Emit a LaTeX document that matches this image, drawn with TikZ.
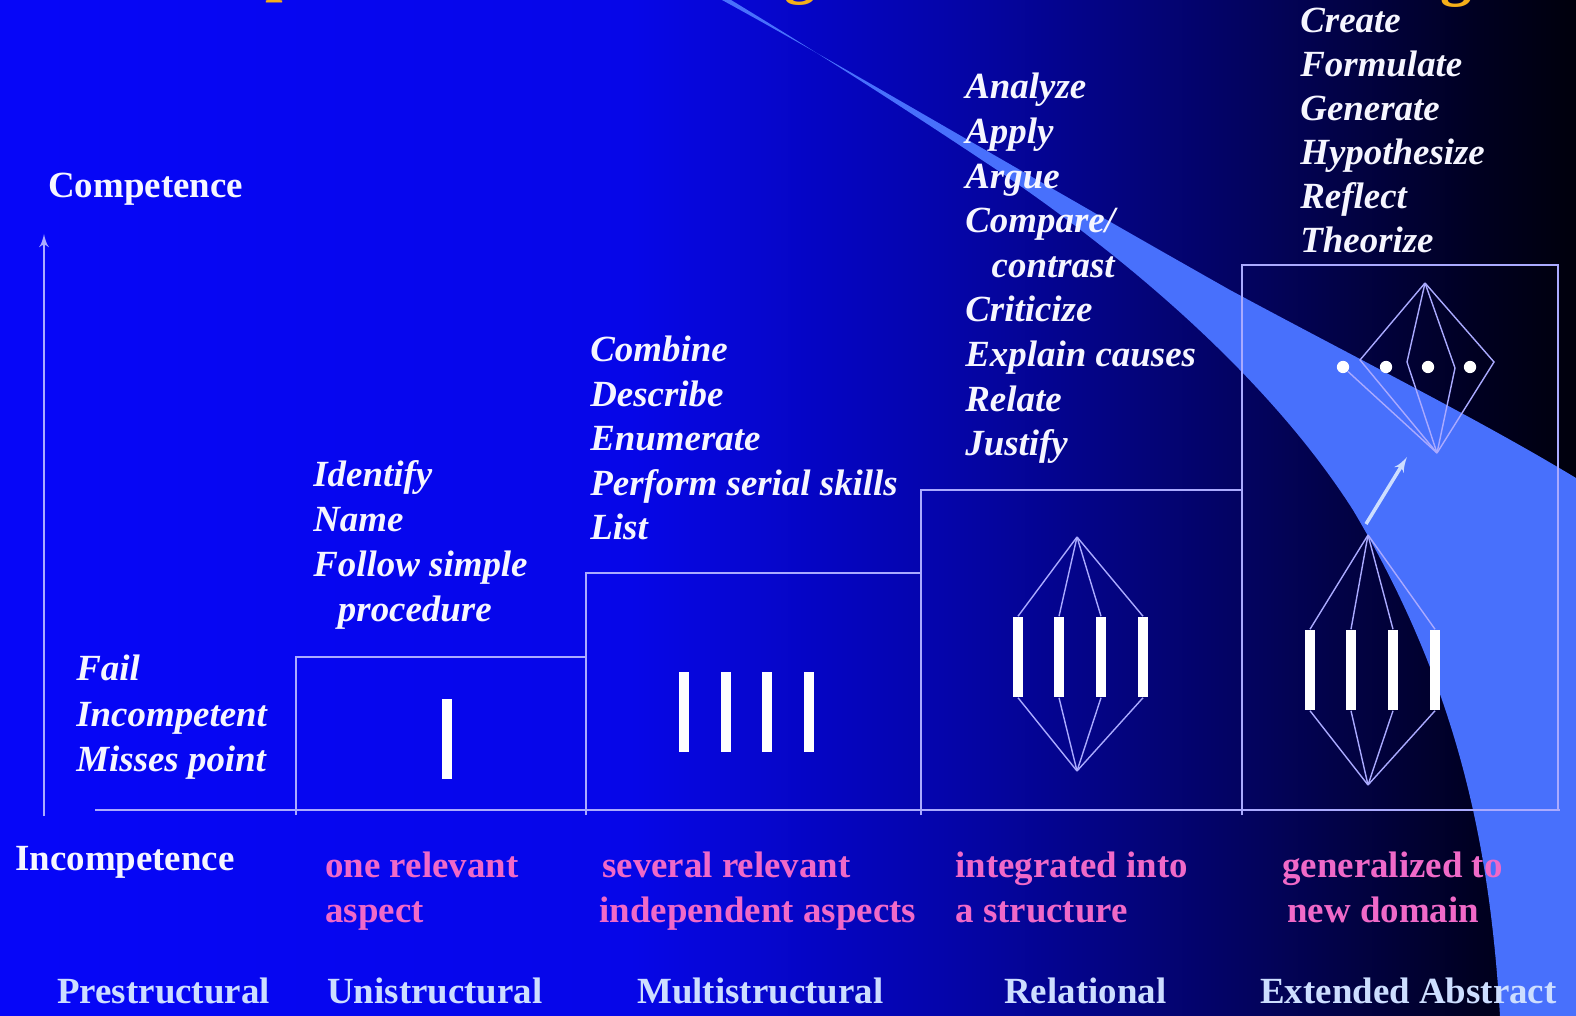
\documentclass[tikz,border=0pt]{standalone}
\usepackage{fontspec}
\setmainfont{Liberation Serif}
\usetikzlibrary{arrows}
\usetikzlibrary{positioning}

\definecolor{bgA}{RGB}{6,6,248}
\definecolor{bgB}{RGB}{6,6,232}
\definecolor{bgC}{RGB}{5,5,170}
\definecolor{bgD}{RGB}{3,3,92}
\definecolor{bgE}{RGB}{0,0,32}
\definecolor{bgF}{RGB}{0,0,12}
\definecolor{swooshblue}{RGB}{72,112,252}
\definecolor{linelav}{RGB}{170,170,255}
\definecolor{txtwhite}{RGB}{246,246,255}
\definecolor{aspectpink}{RGB}{240,105,200}
\definecolor{levelblue}{RGB}{205,222,255}
\definecolor{titleorange}{RGB}{245,175,25}
\pgfdeclarehorizontalshading{bgshade}{100bp}{color(0bp)=(bgA); color(25bp)=(bgA);
  color(45bp)=(bgB); color(55bp)=(bgC); color(65bp)=(bgD); color(72bp)=(bgE);
  color(75bp)=(bgF); color(100bp)=(bgF)}

\tikzset{verb/.style = {text=txtwhite, inner sep=0, anchor=base west,
                        font=\fontsize{21}{25}\selectfont\bfseries\itshape}}
\tikzset{axislbl/.style = {text=txtwhite, inner sep=0, anchor=base west,
                           font=\fontsize{21}{25}\selectfont\bfseries}}
\tikzset{aspect/.style = {axislbl, text=aspectpink}}
\tikzset{level/.style = {axislbl, text=levelblue}}
\tikzset{ttl/.style = {text=titleorange, inner sep=0, anchor=base west,
                       font=\fontsize{36}{40}\selectfont\bfseries}}
\tikzset{stepline/.style = {draw=linelav, line width=1.3pt}}
\tikzset{struct/.style = {draw=linelav, line width=0.8pt}}
\tikzset{bar/.style = {fill=white, inner sep=0, minimum width=5.5pt, minimum height=46pt}}
\tikzset{circ/.style = {fill=white, circle, inner sep=0, minimum size=7pt}}

\begin{document}
\begin{tikzpicture}[x=0.02cm, y=-0.02cm]
    \useasboundingbox (0, 0) rectangle (1576, 1016);
    \shade [shading=bgshade] (0, 0) rectangle (1576, 1016);

    % light swoosh of the slide template
    \fill [swooshblue] (722, 0) .. controls (850, 70) and (1000, 160) .. (1230, 290)
        .. controls (1360, 360) and (1480, 420) .. (1576, 478) -- (1576, 1016) -- (1500, 1016)
        .. controls (1490, 850) and (1460, 690) .. (1353, 510)
        .. controls (1270, 380) and (1130, 260) .. (1000, 172)
        .. controls (880, 92) and (800, 42) .. (731, 0) -- cycle;

    % what is left of the title
    \node [ttl] (ttlp) at (265, -10) {p};
    \node [ttl] (ttlg) at (784, -8) {g};
    \node [ttl] (ttlgg) at (1440, -6) {g};

    % axis and steps
    \coordinate (axbot) at (44, 816);
    \coordinate (axtop) at (44, 234);
    \draw [stepline, line width=1.6pt, -latex'] (axbot) -- (axtop);
    \draw [stepline] (95, 810) -- (1560, 810);
    \draw [stepline] (296, 815) -- (296, 657) -- (586, 657);
    \draw [stepline] (586, 815) -- (586, 573) -- (921, 573);
    \draw [stepline] (921, 815) -- (921, 490) -- (1242, 490);
    \draw [stepline] (1242, 815) -- (1242, 265) -- (1558, 265) -- (1558, 810);

    \node [axislbl] (comp) at (48, 198) {Competence};
    \node [axislbl] (incomp) at (15, 870) {Incompetence};

    % unistructural
    \node [bar] (u1) at (447, 739) {};

    % multistructural
    \foreach \x [count=\i] in {684, 726, 767, 809}
        \node [bar] (m\i) at (\x, 712) {};

    % relational
    \coordinate (rtop) at (1077, 537);
    \coordinate (rbot) at (1077, 771);
    \foreach \x [count=\i] in {1018, 1059, 1101, 1143} {
        \node [bar] (r\i) at (\x, 657) {};
        \draw [struct] (rtop) -- (r\i.north);
        \draw [struct] (r\i.south) -- (rbot);
    }

    % extended abstract
    \coordinate (etop) at (1368, 535);
    \coordinate (ebot) at (1368, 785);
    \foreach \x [count=\i] in {1310, 1351, 1393, 1435} {
        \node [bar] (e\i) at (\x, 670) {};
        \draw [struct] (etop) -- (e\i.north);
        \draw [struct] (e\i.south) -- (ebot);
    }
    \coordinate (dtop) at (1425, 283);
    \coordinate (dbot) at (1437, 453);
    \foreach \x/\y [count=\i] in {1360/360, 1407/362, 1455/368, 1494/362} {
        \coordinate (v\i) at (\x, \y);
        \draw [struct] (dtop) -- (v\i) -- (dbot);
    }
    \foreach \x [count=\i] in {1343, 1386, 1428, 1470}
        \node [circ] (d\i) at (\x, 367) {};
    \draw [struct] (d1) -- (dbot);
    \coordinate (ga0) at (1366, 524);
    \coordinate (ga1) at (1407, 457);
    \draw [draw=levelblue, line width=2pt, -latex'] (ga0) -- (ga1);

    % verbs
    \foreach \w [count=\i] in {Fail, Incompetent, Misses point}
        \node [verb] (pre\i) at (76, {681 + 45*(\i - 1)}) {\w};
    \foreach \w [count=\i] in {Identify, Name, Follow simple, {\hspace*{14pt}procedure}}
        \node [verb] (uni\i) at (313, {487 + 44.7*(\i - 1)}) {\w};
    \foreach \w [count=\i] in {Combine, Describe, Enumerate, Perform serial skills, List}
        \node [verb] (mul\i) at (590, {362 + 44.5*(\i - 1)}) {\w};
    \foreach \w [count=\i] in {Analyze, Apply, Argue, Compare/, {\hspace*{15pt}contrast},
                               Criticize, Explain causes, Relate, Justify}
        \node [verb] (rel\i) at (965, {99 + 44.6*(\i - 1)}) {\w};
    \foreach \w [count=\i] in {Create, Formulate, Generate, Hypothesize, Reflect, Theorize}
        \node [verb] (ext\i) at (1300, {33 + 44*(\i - 1)}) {\w};

    % aspects
    \node [aspect] (aspu) at (325, 877) {one relevant};
    \node [aspect] (aspuu) at (325, 922) {aspect};
    \node [aspect] (aspm) at (602, 877) {several relevant};
    \node [aspect] (aspmm) at (599, 922) {independent aspects};
    \node [aspect] (aspr) at (955, 877) {integrated into};
    \node [aspect] (asprr) at (955, 922) {a structure};
    \node [aspect] (aspe) at (1282, 877) {generalized to};
    \node [aspect] (aspee) at (1287, 922) {new domain};

    % levels
    \node [level] (lvpre) at (57, 1003) {Prestructural};
    \node [level] (lvuni) at (327, 1003) {Unistructural};
    \node [level] (lvmul) at (637, 1003) {Multistructural};
    \node [level] (lvrel) at (1004, 1003) {Relational};
    \node [level] (lvext) at (1260, 1003) {Extended Abstract};
\end{tikzpicture}
\end{document}
